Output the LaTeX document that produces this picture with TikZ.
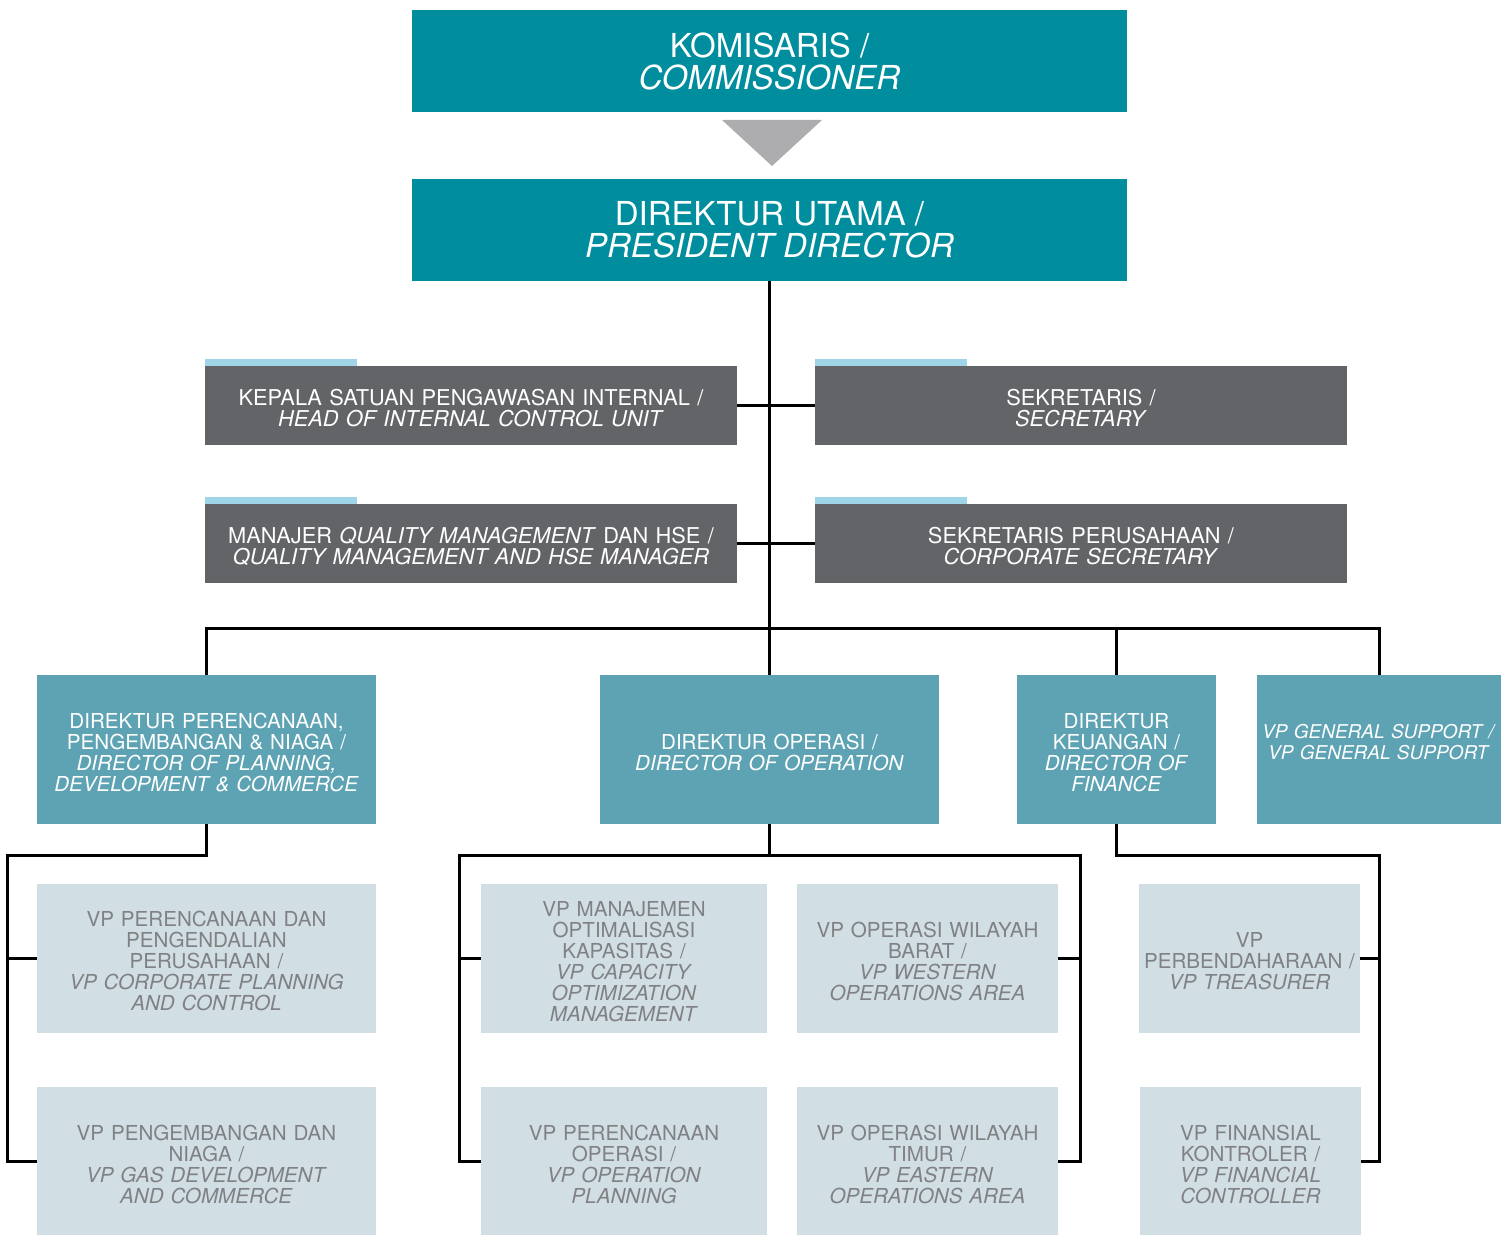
\documentclass[tikz,border=0pt]{standalone}
\usepackage{fontspec}
\setmainfont{TeX Gyre Heros}
\usepackage{xcolor}
\usepackage{tikz}

\definecolor{topteal}{RGB}{0,141,158}
\definecolor{dirteal}{RGB}{94,163,179}
\definecolor{unitgray}{RGB}{99,100,104}
\definecolor{stripblue}{RGB}{159,213,231}
\definecolor{vpfill}{RGB}{209,222,228}
\definecolor{vptext}{RGB}{128,129,132}
\definecolor{arrowgray}{RGB}{173,173,175}

\begin{document}
\begin{tikzpicture}[x=0.5pt,y=-0.5pt,
    headbox/.style={fill=topteal, text=white, inner sep=0, minimum width=357.5pt, minimum height=51pt,
        align=center, font={\fontsize{16.5}{16}\selectfont}},
    unitbox/.style={fill=unitgray, text=white, inner sep=0, text width=266pt, minimum height=39.5pt,
        align=center, font={\fontsize{10.9}{10.5}\selectfont}, execute at begin node={\rule{0pt}{1em}}},
    dirbox/.style={fill=dirteal, text=white, inner sep=0, text width=#1, minimum height=74.5pt,
        align=center, font={\fontsize{10.3}{10.5}\selectfont}, execute at begin node={\rule{0pt}{1em}}},
    vpbox/.style={fill=vpfill, text=vptext, inner sep=0, text width=#1, minimum height=74.5pt,
        align=center, font={\fontsize{10.3}{10.5}\selectfont}, execute at begin node={\rule{0pt}{1em}}},
    link/.style={draw=black, line width=1.5pt}]
    \useasboundingbox (0,0) rectangle (1509,1235);

    \node[headbox] (kom) at (769.5,61) {KOMISARIS /\\ \textit{COMMISSIONER}};
    \node[headbox] (pres) at (769.5,230) {DIREKTUR UTAMA /\\ \textit{PRESIDENT DIRECTOR}};
    \fill[arrowgray] (722,120) -- (822,120) -- (772,166) -- cycle;

    \node[unitbox] (spi) at (471,405.5) {KEPALA SATUAN PENGAWASAN INTERNAL /\\ \textit{HEAD OF INTERNAL CONTROL UNIT}};
    \node[unitbox] (sek) at (1081,405.5) {SEKRETARIS /\\ \textit{SECRETARY}};
    \node[unitbox] (qhse) at (471,543.5) {MANAJER \textit{QUALITY MANAGEMENT} DAN HSE /\\ \textit{QUALITY MANAGEMENT AND HSE MANAGER}};
    \node[unitbox] (corsec) at (1081,543.5) {SEKRETARIS PERUSAHAAN /\\ \textit{CORPORATE SECRETARY}};
    \foreach \u in {spi,sek,qhse,corsec}
        \fill[stripblue] (\u.north west) rectangle ++(152,-7);

    \node[dirbox=169.5pt] (dpp) at (206.5,749.5) {DIREKTUR PERENCANAAN,\\ PENGEMBANGAN \& NIAGA /\\
        \textit{DIRECTOR OF PLANNING,}\\ \textit{DEVELOPMENT \& COMMERCE}};
    \node[dirbox=169.5pt] (dop) at (769.5,749.5) {DIREKTUR OPERASI /\\ \textit{DIRECTOR OF OPERATION}};
    \node[dirbox=99.5pt] (dkeu) at (1116.5,749.5) {DIREKTUR\\ KEUANGAN /\\ \textit{DIRECTOR OF}\\ \textit{FINANCE}};
    \node[dirbox=122pt, font={\fontsize{9.5}{10.5}\selectfont}] (vpgs) at (1379,749.5)
        {\textit{VP GENERAL SUPPORT /}\\ \textit{VP GENERAL SUPPORT}\\ \mbox{}};

    \node[vpbox=169.5pt] (vpcp) at (206.5,958.5) {VP PERENCANAAN DAN\\ PENGENDALIAN\\ PERUSAHAAN /\\
        \textit{VP CORPORATE PLANNING}\\ \textit{AND CONTROL}};
    \node[vpbox=169.5pt] (vpgd) at (206.5,1161.5) {VP PENGEMBANGAN DAN\\ NIAGA /\\
        \textit{VP GAS DEVELOPMENT}\\ \textit{AND COMMERCE}};
    \node[vpbox=143pt] (vpcap) at (624,958.5) {VP MANAJEMEN\\ OPTIMALISASI\\ KAPASITAS /\\
        \textit{VP CAPACITY}\\ \textit{OPTIMIZATION}\\ \textit{MANAGEMENT}};
    \node[vpbox=130.5pt] (vpwest) at (927.5,958.5) {VP OPERASI WILAYAH\\ BARAT /\\
        \textit{VP WESTERN}\\ \textit{OPERATIONS AREA}};
    \node[vpbox=143pt] (vpplan) at (624,1161.5) {VP PERENCANAAN\\ OPERASI /\\
        \textit{VP OPERATION}\\ \textit{PLANNING}};
    \node[vpbox=130.5pt] (vpeast) at (927.5,1161.5) {VP OPERASI WILAYAH\\ TIMUR /\\
        \textit{VP EASTERN}\\ \textit{OPERATIONS AREA}};
    \node[vpbox=110.5pt] (vptr) at (1249.5,958.5) {VP\\ PERBENDAHARAAN /\\ \textit{VP TREASURER}};
    \node[vpbox=110.5pt] (vpfc) at (1250.5,1161.5) {VP FINANSIAL\\ KONTROLER /\\
        \textit{VP FINANCIAL}\\ \textit{CONTROLLER}};

    \coordinate (bus) at (769,628);
    \coordinate (pl) at (7,855);
    \coordinate (ol) at (459,855);
    \coordinate (or) at (1080,855);
    \coordinate (fr) at (1379,855);

    \draw[link] (pres.south) -- (dop.north);
    \draw[link] (spi.east) -- (sek.west);
    \draw[link] (qhse.east) -- (corsec.west);
    \draw[link] (dpp.north) |- (bus) -| (vpgs.north);
    \draw[link] (dkeu.north) -- (dkeu.north |- bus);

    \draw[link] (dpp.south) |- (pl) |- (vpgd.west);
    \draw[link] (pl |- vpcp.west) -- (vpcp.west);
    \draw[link] (dop.south) -- (dop.south |- ol);
    \draw[link] (vpplan.west) -| (ol) -- (or) |- (vpeast.east);
    \draw[link] (ol |- vpcap.west) -- (vpcap.west);
    \draw[link] (or |- vpwest.east) -- (vpwest.east);
    \draw[link] (dkeu.south) |- (fr) |- (vpfc.east);
    \draw[link] (fr |- vptr.east) -- (vptr.east);
\end{tikzpicture}
\end{document}
